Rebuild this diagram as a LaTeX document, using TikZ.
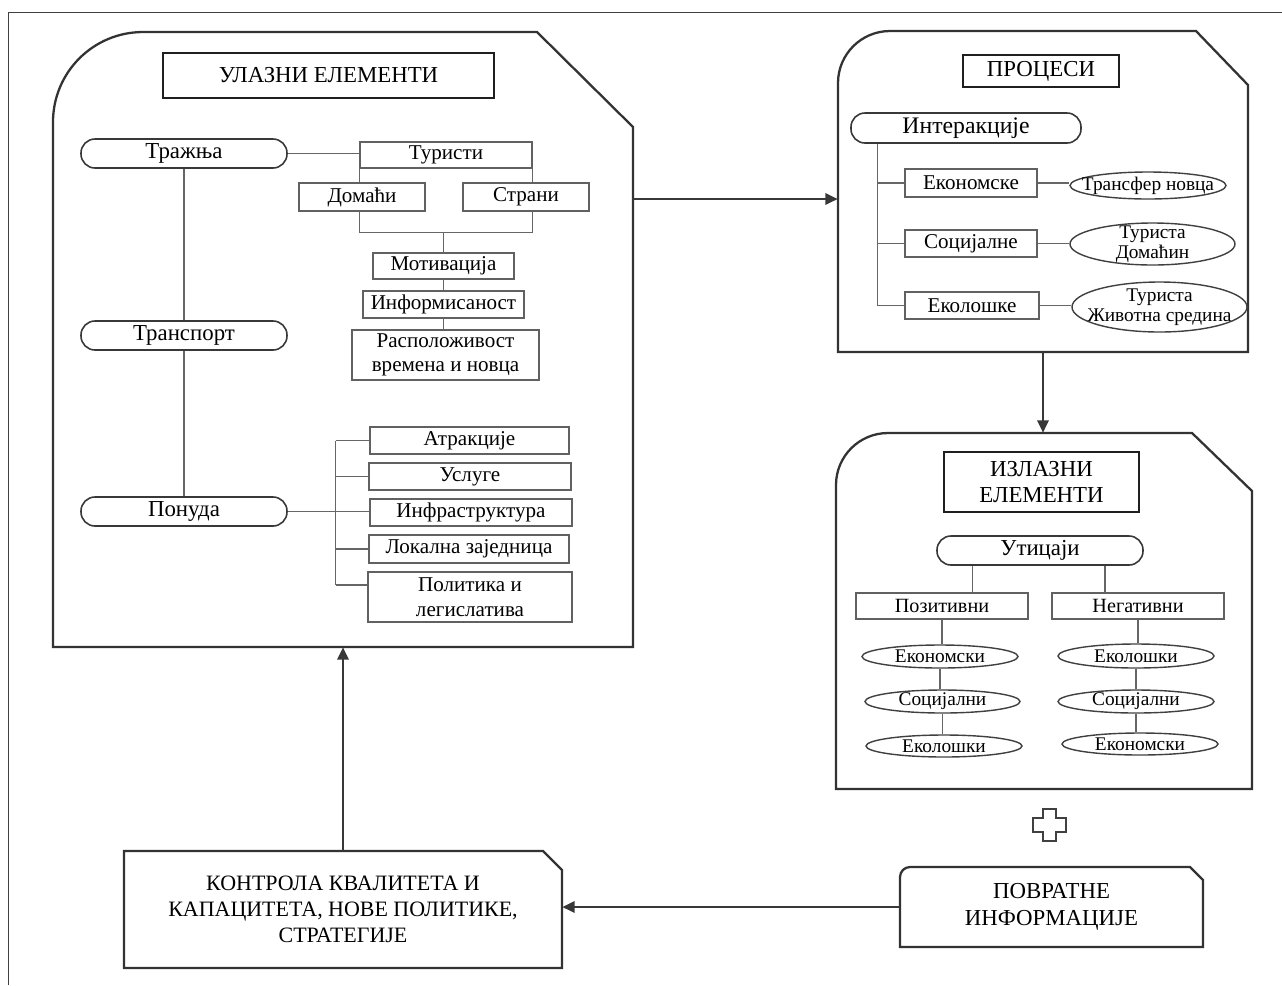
\documentclass[tikz,border=0pt]{standalone}
\usepackage{fontspec}
\setmainfont{Liberation Serif}
\usetikzlibrary{arrows.meta, fit, shapes.geometric, calc}

\tikzset{
  % a node spanning the box from (x1,y1) to (x2,y2), given in picture units
  span/.style n args={4}{at={({(#1+#3)/2},{(#2+#4)/2})},
    minimum width={(#3-#1)*0.02cm}, minimum height={(#4-#2)*0.02cm}},
  frameline/.style={draw=black!75, line width=0.9pt},
  panel/.style={draw=black!80, line width=1.3pt},
  area/.style={inner sep=0pt, align=center},
  head/.style={draw=black!88, line width=1.5pt, inner sep=0pt, align=center,
               font=\fontsize{13}{14.5}\selectfont},
  item/.style={draw=black!62, line width=0.8pt, inner sep=0pt, align=center,
               font=\fontsize{12}{14}\selectfont},
  pill/.style={draw=black!78, line width=0.9pt, rounded corners=0.28cm, inner sep=0pt,
               font=\fontsize{13}{15}\selectfont},
  oval/.style={ellipse, draw=black!75, line width=0.8pt, inner sep=0pt},
  ovtext/.style={inner sep=0pt, align=center, font=\fontsize{11}{11.5}\selectfont},
  link/.style={draw=black!60, line width=0.8pt},
  flow/.style={draw=black!78, line width=1.1pt, -{Triangle[length=7pt,width=6.5pt]}},
  crossline/.style={draw=black!75, line width=0.9pt}
}

\begin{document}
\begin{tikzpicture}[x=0.02cm, y=-0.02cm]
\useasboundingbox (0,0) rectangle (1282,985);

% page frame (top and left edges)
\draw[frameline] (8.5,985) -- (8.5,12.5) -- (1282,12.5);

% ---------- input panel ----------
\draw[panel] (53,647) -- (53,122) arc[start angle=180, end angle=90, radius=1.8cm]
  -- (537,32) -- (633,127) -- (633,647) -- cycle;
\node[area, fit={(53,32)(633,647)}] (inp) {};
\node[head, span={163}{53}{494}{98}] (inh) {УЛАЗНИ ЕЛЕМЕНТИ};

\node[pill, span={81}{139}{287}{168}] (dem) {Тражња};
\node[pill, span={81}{321}{287}{350}] (tra) {Транспорт};
\node[pill, span={81}{497}{287}{526}] (sup) {Понуда};
\draw[link] (dem.south) -- (tra.north);
\draw[link] (tra.south) -- (sup.north);

\node[item, span={360}{142}{532}{168}] (tur) {Туристи};
\node[item, span={299}{183}{425}{211}] (dom) {Домаћи};
\node[item, span={463}{183}{589}{211}] (str) {Страни};
\node[item, span={373}{253}{514}{279}] (mot) {Мотивација};
\node[item, span={363}{291}{524}{318}] (inf) {Информисаност};
\node[item, span={352}{330}{539}{380}] (ras) {Расположивост\\времена и новца};

\draw[link] (dem.east) -- (dem.east -| tur.west);
\draw[link] (tur.south west) -- (tur.south west |- dom.north);
\draw[link] (tur.south east) -- (tur.south east |- str.north);
\coordinate (jl) at ([yshift=-0.42cm]dom.south -| tur.south west);
\draw[link] (dom.south -| tur.south west) -- (jl) -- (jl -| tur.south east)
  -- (str.south -| tur.south east);
\draw[link] (jl -| mot.north) -- (mot.north);
\draw[link] (mot.south) -- (mot.south |- inf.north);
\draw[link] (inf.south) -- (inf.south |- ras.north);

\node[item, span={370}{427}{569}{454}] (atr) {Атракције};
\node[item, span={369}{463}{571}{490}] (usl) {Услуге};
\node[item, span={370}{499}{572}{526}] (infr) {Инфраструктура};
\node[item, span={369}{535}{569}{563}] (lok) {Локална заједница};
\node[item, span={368}{572}{572}{622}] (pol) {Политика и\\легислатива};

\coordinate (br) at ([xshift=0.96cm]sup.east);
\coordinate (pb) at ([yshift=0.24cm]pol.west);
\draw[link] (br |- atr.west) -- (br |- pb);
\draw[link] (sup.east) -- (sup.east -| infr.west);
\draw[link] (br |- atr.west) -- (atr.west);
\draw[link] (br |- usl.west) -- (usl.west);
\draw[link] (br |- lok.west) -- (lok.west);
\draw[link] (br |- pb) -- (pb);

% ---------- process panel ----------
\draw[panel] (838,352) -- (838,83) arc[start angle=180, end angle=90, radius=1.04cm]
  -- (1196,31) -- (1248,85) -- (1248,352) -- cycle;
\node[area, fit={(838,31)(1248,352)}] (pr) {};
\node[head, span={963}{55}{1119}{87}] (prh) {ПРОЦЕСИ};

\node[pill, span={851}{113}{1081}{143}, font=\fontsize{13.5}{15}\selectfont] (int) {Интеракције};
\node[item, span={905}{169}{1037}{197}] (eko) {Економске};
\node[item, span={905}{230}{1037}{257}] (soc) {Социјалне};
\node[item, span={905}{292}{1039}{319}] (ekl) {Еколошке};

\coordinate (sp) at ([xshift=0.54cm]int.south west);
\draw[link] (sp) -- (sp |- ekl.west);
\draw[link] (sp |- eko.west) -- (eko.west);
\draw[link] (sp |- soc.west) -- (soc.west);
\draw[link] (sp |- ekl.west) -- (ekl.west);

\node[oval, span={1070}{172}{1226}{199}] (tn) {};
\node[oval, span={1070}{223}{1235}{265}] (td) {};
\node[oval, span={1072}{282}{1247}{332}] (tz) {};
\node[ovtext] (tnt) at (tn) {Трансфер новца};
\node[ovtext] (tdt) at (td) {Туриста\\Домаћин};
\node[ovtext] (tzt) at (tz) {Туриста\\Животна средина};

\draw[link] (eko.east) -- (eko.east -| tn.west);
\draw[link] (soc.east) -- (soc.east -| td.west);
\draw[link] (ekl.east) -- (ekl.east -| tz.west);

% ---------- output panel ----------
\draw[panel] (836,789) -- (836,485) arc[start angle=180, end angle=90, radius=1.04cm]
  -- (1192,433) -- (1252,491) -- (1252,789) -- cycle;
\node[area, fit={(836,433)(1252,789)}] (outp) {};
\node[head, span={944}{452}{1139}{512}] (outh) {ИЗЛАЗНИ\\ЕЛЕМЕНТИ};

\node[pill, span={937}{536}{1143}{565}] (ut) {Утицаји};
\node[item, span={856}{593}{1028}{619}, font=\fontsize{11.5}{13}\selectfont] (poz) {Позитивни};
\node[item, span={1052}{593}{1224}{619}, font=\fontsize{11.5}{13}\selectfont] (neg) {Негативни};
\draw[link] ([xshift=0.72cm]ut.south west) -- ([xshift=0.72cm]ut.south west |- poz.north);
\draw[link] ([xshift=-0.78cm]ut.south east) -- ([xshift=-0.78cm]ut.south east |- neg.north);

\node[oval, span={862}{645}{1018}{668}] (pa) {};
\node[oval, span={865}{690}{1020}{713}] (pb2) {};
\node[oval, span={866}{735}{1022}{757}] (pc) {};
\node[oval, span={1058}{644}{1214}{668}] (na) {};
\node[oval, span={1058}{690}{1214}{713}] (nb) {};
\node[oval, span={1062}{733}{1218}{755}] (nc) {};
\node[ovtext] (pat) at (pa) {Економски};
\node[ovtext] (pbt) at (pb2) {Социјални};
\node[ovtext] (pct) at (pc) {Еколошки};
\node[ovtext] (nat) at (na) {Еколошки};
\node[ovtext] (nbt) at (nb) {Социјални};
\node[ovtext] (nct) at (nc) {Економски};

\draw[link] (poz.south) -- (poz.south |- pa.north);
\draw[link] (pa.south) -- (pa.south |- pb2.north);
\draw[link] (pb2.south) -- (pb2.south |- pc.north);
\draw[link] (neg.south) -- (neg.south |- na.north);
\draw[link] (na.south) -- (na.south |- nb.north);
\draw[link] (nb.south) -- (nb.south |- nc.north);

% ---------- plus sign ----------
\draw[crossline] (1043,809) -- (1056,809) -- (1056,818) -- (1066,818) -- (1066,832)
  -- (1056,832) -- (1056,841) -- (1043,841) -- (1043,832) -- (1033,832)
  -- (1033,818) -- (1043,818) -- cycle;

% ---------- feedback and control ----------
\draw[panel] (900,947) -- (900,877) arc[start angle=180, end angle=90, radius=0.2cm]
  -- (1190,867) -- (1203,880) -- (1203,947) -- cycle;
\node[area, span={900}{867}{1203}{947}, font=\fontsize{13}{15.3}\selectfont] (fb)
  {ПОВРАТНЕ\\ИНФОРМАЦИЈЕ};

\draw[panel] (124,968) -- (124,851) -- (543,851) -- (562,870) -- (562,968) -- cycle;
\node[area, span={124}{851}{562}{968}, font=\fontsize{12.5}{14.8}\selectfont] (ctrl)
  {КОНТРОЛА КВАЛИТЕТА И\\КАПАЦИТЕТА, НОВЕ ПОЛИТИКЕ,\\СТРАТЕГИЈЕ};

% ---------- flow arrows ----------
\coordinate (pin) at ([yshift=-0.15cm]pr.west);
\draw[flow] (inp.east |- pin) -- (pin);
\draw[flow] (pr.south) -- (pr.south |- outp.north);
\draw[flow] (fb.west) -- (fb.west -| ctrl.east);
\draw[flow] (ctrl.north) -- (ctrl.north |- inp.south);

\end{tikzpicture}
\end{document}
